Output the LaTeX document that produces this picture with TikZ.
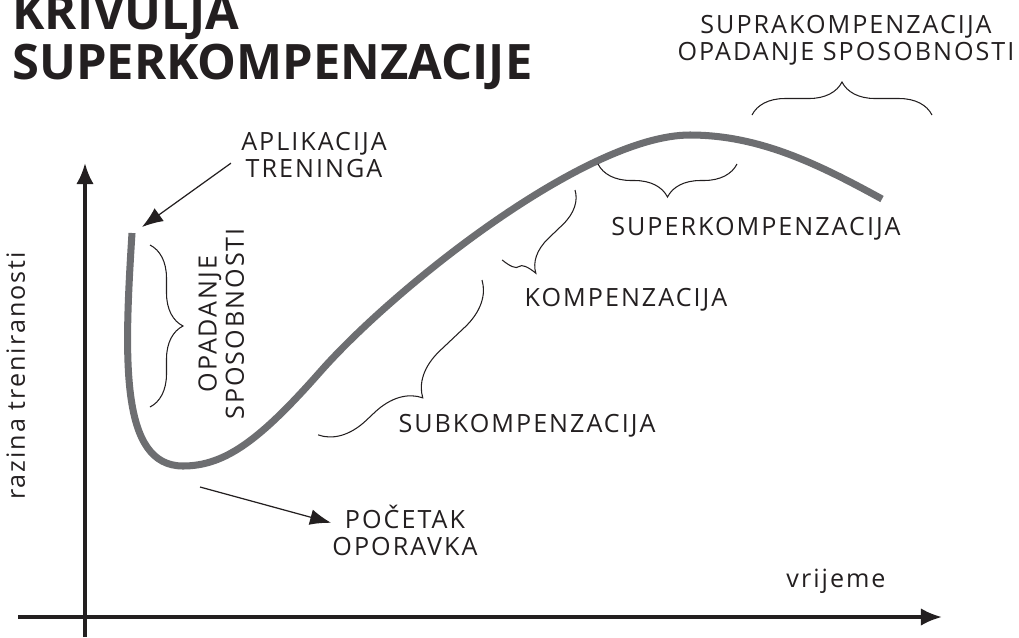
\documentclass[tikz,border=0pt]{standalone}
\usepackage{fontspec}
\setmainfont{Open Sans}
\newfontfamily\spacedfont[LetterSpace=8]{Open Sans}
\usepackage{xcolor}
\usetikzlibrary{positioning}
\usetikzlibrary{arrows.meta}
\usetikzlibrary{decorations.pathreplacing}
\definecolor{curvegray}{HTML}{6D6E71}
\definecolor{ink}{HTML}{231F20}

\begin{document}
\begin{tikzpicture}[x=0.02cm, y=-0.02cm,
      type-title/.style={font=\fontsize{27.8}{28.3}\selectfont\bfseries, text=ink, align=left, inner sep=0},
      type-label/.style={font=\spacedfont\fontsize{14.3}{15.5}\selectfont, text=ink, align=center, inner sep=0},
      type-axis/.style={line width=2pt, draw=ink, -{Latex[length=12pt,width=10pt]}},
      type-arrow/.style={line width=0.7pt, draw=ink, -{Latex[length=12pt,width=9pt]}},
      type-brace/.style={decorate, decoration={brace, amplitude=0.66cm}, line width=0.6pt, draw=ink},
      type-curve/.style={line width=4pt, draw=curvegray}
    ]
      \useasboundingbox (0,0) rectangle (1019,637);

      % axes
      \draw[type-axis] (85,637) -- (85,163);
      \draw[type-axis] (18,617) -- (942,617);
      \node[type-label, rotate=90, anchor=base] (razina) at (25,376) {razina treniranosti};
      \node[type-label, anchor=base] (vrijeme) at (836,587) {vrijeme};

      % title
      \node[type-title, anchor=north west] (title) at (12,-6) {KRIVULJA\\SUPERKOMPENZACIJE};

      % curve
      \draw[type-curve] (132,233) .. controls (124,360) and (120,466) .. (183,466)
        .. controls (225,466) and (260,440) .. (320,372)
        .. controls (394,288) and (586,135) .. (690,135)
        .. controls (760,135) and (820,165) .. (882,199);
      \coordinate (vrh) at (142,227);
      \coordinate (dno) at (200,487);

      % labels
      \node[type-label, anchor=north] (aplik) at (314,132) {APLIKACIJA\\TRENINGA};
      \node[type-label, anchor=north] (pocetak) at (405,505) {POČETAK\\OPORAVKA};
      \node[type-label, rotate=90, anchor=north] (opad) at (198,324) {OPADANJE\\SPOSOBNOSTI};
      \node[type-label, anchor=base] (sub) at (527,432) {SUBKOMPENZACIJA};
      \node[type-label, anchor=base] (komp) at (626,306) {KOMPENZACIJA};
      \node[type-label, anchor=base] (super) at (756,235) {SUPERKOMPENZACIJA};
      \node[type-label, anchor=north] (supra) at (846,15) {SUPRAKOMPENZACIJA\\OPADANJE SPOSOBNOSTI};

      % pointers
      \draw[type-arrow] ([shift={(-10,8)}]aplik.west) -- (vrh);
      \draw[type-arrow] (dno) -- ([shift={(-1,-8)}]pocetak.west);

      % braces
      \draw[type-brace] (150,245) -- (150,407);
      \draw[type-brace, decoration={amplitude=0.9cm, aspect=0.55}] (482,280) -- (318,435);
      \draw[type-brace, decoration={aspect=0.85}] (575,190) -- (502,260);
      \draw[type-brace] (737,164) -- (598,164);
      \draw[type-brace] (752,115) -- (932,115);
    \end{tikzpicture}
\end{document}
